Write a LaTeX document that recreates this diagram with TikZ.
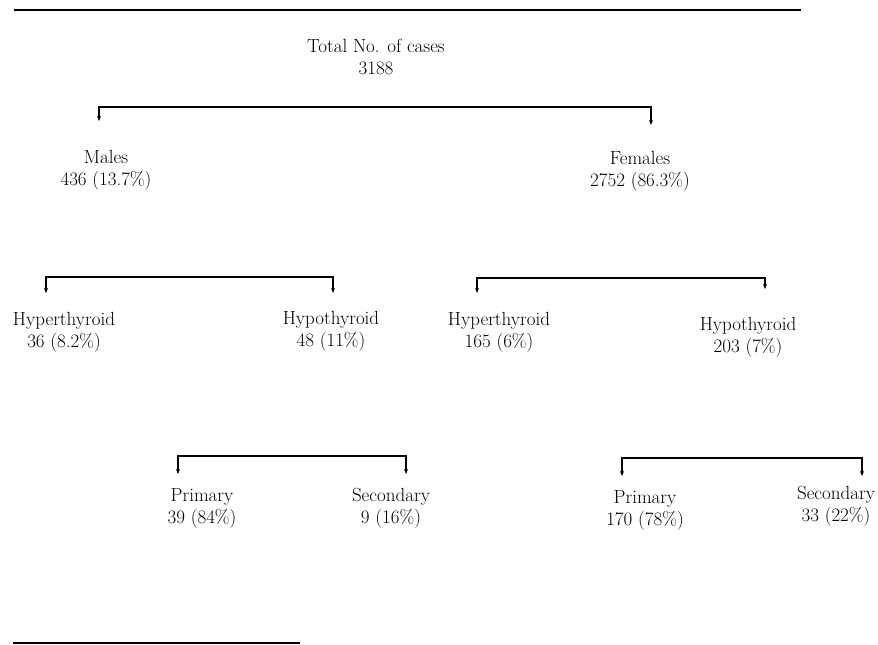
\documentclass[tikz,border=0pt]{standalone}
\usepackage{fontspec}
\setmainfont{Latin Modern Roman}
\usetikzlibrary{arrows.meta}
\begin{document}
\begin{tikzpicture}[x=1pt,y=-1pt,
  lbl/.style={align=center,inner sep=0pt,font=\fontsize{19}{22}\selectfont},
  brk/.style={line width=1.1pt,{Stealth[length=5pt,width=4pt]}-{Stealth[length=5pt,width=4pt]}},
  rule/.style={line width=2pt}]
\useasboundingbox (0,0) rectangle (878,645);
% rules
\draw[rule] (14,9.5) -- (801,9.5);
\draw[rule] (13,643) -- (300,643);
% nodes
\node[lbl] (total) at (376,57) {Total No. of cases\\3188};
\node[lbl] (males) at (106,170) {Males\\436 (13.7\%)};
\node[lbl] (females) at (640,171) {Females\\2752 (86.3\%)};
\node[lbl] (mhyper) at (64,332) {Hyperthyroid\\36 (8.2\%)};
\node[lbl] (mhypo) at (331,331) {Hypothyroid\\48 (11\%)};
\node[lbl] (fhyper) at (499,332) {Hyperthyroid\\165 (6\%)};
\node[lbl] (fhypo) at (748,337) {Hypothyroid\\203 (7\%)};
\node[lbl] (mprim) at (202,508) {Primary\\39 (84\%)};
\node[lbl] (msec) at (391,508) {Secondary\\9 (16\%)};
\node[lbl] (fprim) at (645,510) {Primary\\170 (78\%)};
\node[lbl] (fsec) at (836,506) {Secondary\\33 (22\%)};
% bracket coordinates
\coordinate (t1) at (99,121);  \coordinate (t2) at (651,125);
\coordinate (m1) at (46,293);  \coordinate (m2) at (333,293);
\coordinate (f1) at (477,293); \coordinate (f2) at (765,289);
\coordinate (p1) at (178,474); \coordinate (p2) at (406,474);
\coordinate (q1) at (622,476); \coordinate (q2) at (862,476);
% brackets
\draw[brk] (t1) -- (99,107) -- (651,107) -- (t2);
\draw[brk] (m1) -- (46,277) -- (333,277) -- (m2);
\draw[brk] (f1) -- (477,278) -- (765,278) -- (f2);
\draw[brk] (p1) -- (178,456) -- (406,456) -- (p2);
\draw[brk] (q1) -- (622,458) -- (862,458) -- (q2);
\end{tikzpicture}
\end{document}
